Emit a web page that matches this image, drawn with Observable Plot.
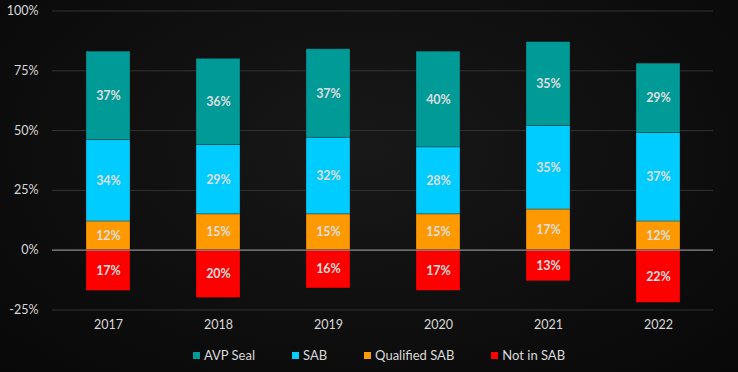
<!DOCTYPE html>
<html>
<head>
<meta charset="utf-8">
<script src="https://cdn.jsdelivr.net/npm/d3@7"></script>
<script src="https://cdn.jsdelivr.net/npm/@observablehq/plot@0.6"></script>
<style>
  html, body { margin: 0; padding: 0; background: #0c0c0c; }
  body { width: 738px; height: 372px; overflow: hidden;
         background: radial-gradient(ellipse at 50% 40%, #181818 0%, #0e0e0e 60%, #080808 100%); }
  #legend { display: flex; justify-content: center; align-items: center; height: 34px;
            font-family: Lato, "Open Sans", sans-serif; font-size: 13px; color: #d9d9d9;
            margin-left: 20px; gap: 37px; }
  #legend .item { display: flex; align-items: center; gap: 4px; }
  #legend .sw { width: 7px; height: 7px; display: inline-block; }
</style>
</head>
<body>
<div id="chart"></div>
<div id="legend"></div>
<script>
const years = ["2017", "2018", "2019", "2020", "2021", "2022"];
const series = ["Qualified SAB", "SAB", "AVP Seal", "Not in SAB"];
const legendOrder = ["AVP Seal", "SAB", "Qualified SAB", "Not in SAB"];
const colors = ["#FF9900", "#00CCFF", "#009A97", "#FF0000"];
const qualifiedSAB = [12, 15, 15, 15, 17, 12];
const sab = [34, 29, 32, 28, 35, 37];
const avpSeal = [37, 36, 37, 40, 35, 29];
const notInSAB = [-17, -20, -16, -17, -13, -22];
const yTicks = [-25, 0, 25, 50, 75, 100];

const valuesBySeries = {
  "Qualified SAB": qualifiedSAB,
  "SAB": sab,
  "AVP Seal": avpSeal,
  "Not in SAB": notInSAB
};
const data = [];
years.forEach((year, i) => {
  series.forEach(s => data.push({year, series: s, value: valuesBySeries[s][i]}));
});

const font = 'Lato, "Open Sans", sans-serif';
const chart = Plot.plot({
  width: 738,
  height: 338,
  marginLeft: 52,
  marginRight: 25,
  marginTop: 10.5,
  marginBottom: 28.5,
  style: { background: "transparent", color: "#d9d9d9", fontFamily: font, fontSize: "12.5px" },
  x: { domain: years, paddingInner: 0.6, paddingOuter: 0.3, label: null },
  y: { domain: [-25, 100], label: null },
  color: { domain: series, range: colors },
  marks: [
    Plot.gridY(yTicks.filter(d => d !== 0), { stroke: "#333333", strokeOpacity: 1, strokeWidth: 1 }),
    Plot.axisY({ ticks: yTicks, tickFormat: d => d + "%", tickSize: 0, tickPadding: 14, label: null, fontSize: 12.5 }),
    Plot.axisX({ tickSize: 0, tickPadding: 10, label: null, fontSize: 12.5 }),
    Plot.barY(data, { x: "year", y: "value", z: "series", fill: "series", stroke: "#0c0c0c", strokeOpacity: 0.35, strokeWidth: 0.8 }),
    Plot.ruleY([0], { stroke: "#8c8c8c", strokeWidth: 1.2 }),
    Plot.text(data, Plot.stackY({ x: "year", y: "value", z: "series", text: d => Math.abs(d.value) + "%",
      fill: "#dedede", fontWeight: "bold", fontSize: 12.5 }))
  ]
});
document.getElementById("chart").appendChild(chart);

const legend = document.getElementById("legend");
legendOrder.forEach(s => {
  const item = document.createElement("span");
  item.className = "item";
  const sw = document.createElement("span");
  sw.className = "sw";
  sw.style.background = colors[series.indexOf(s)];
  const label = document.createElement("span");
  label.textContent = s;
  item.appendChild(sw);
  item.appendChild(label);
  legend.appendChild(item);
});
</script>
</body>
</html>
